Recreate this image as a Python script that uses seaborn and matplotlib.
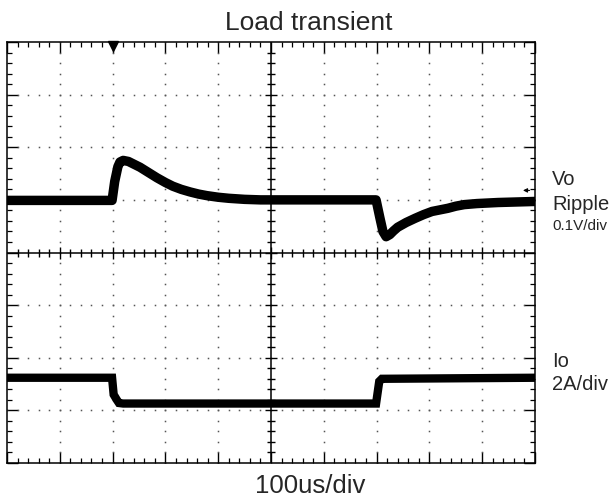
import numpy as np
import pandas as pd
import matplotlib
matplotlib.use("Agg")
import matplotlib.pyplot as plt
import seaborn as sns

# ---- data (in scope divisions) ----
t_vo = [0.0, 1.99, 2.04, 2.10, 2.14, 2.20, 2.30, 2.40, 2.52, 2.68, 2.84, 3.00, 3.14,
        3.30, 3.47, 3.63, 3.79, 4.00, 4.20, 4.50, 4.80,
        6.99, 7.06, 7.12, 7.18, 7.25, 7.32, 7.40, 7.56, 7.73, 7.89, 8.05, 8.20,
        8.35, 8.50, 8.66, 8.90, 9.30, 10.0]
vo = [0.99, 0.99, 1.35, 1.63, 1.72, 1.75, 1.73, 1.68, 1.62, 1.52, 1.42, 1.33, 1.26,
      1.20, 1.15, 1.11, 1.08, 1.05, 1.03, 1.01, 1.00,
      1.00, 0.67, 0.40, 0.30, 0.34, 0.41, 0.48, 0.57, 0.65, 0.72, 0.78, 0.81,
      0.84, 0.88, 0.91, 0.93, 0.95, 0.97]

t_io = [0.0, 1.99, 2.02, 2.08, 2.12, 2.20, 6.99, 7.05, 7.10, 10.0]
io = [-2.38, -2.38, -2.70, -2.80, -2.86, -2.87, -2.87, -2.45, -2.40, -2.38]

title = "Load transient"
xlabel = "100us/div"
vo_label = ["Vo", "Ripple", "0.1V/div"]
io_label = ["Io", "2A/div"]

sns.set_style("white")
plt.rcParams['font.family'] = ['Liberation Sans', 'DejaVu Sans']

fig = plt.figure(figsize=(6.16, 4.99), dpi=100)
ax = fig.add_axes([7/616, 36/499, 528/616, 421/499])
ax.set_xlim(0, 10)
ax.set_ylim(-4, 4)

# dotted graticule
dot_x = np.arange(0, 10.001, 0.2)
dot_y = np.arange(-4, 4.001, 0.2)
for gx in range(1, 10):
    if gx == 5:
        continue
    ax.plot(np.full_like(dot_y, gx), dot_y, ls='none', marker='s', ms=1.1,
            color='#555555', mew=0)
for gy in range(-3, 4):
    if gy == 0:
        continue
    ax.plot(dot_x, np.full_like(dot_x, gy), ls='none', marker='s', ms=1.1,
            color='#555555', mew=0)

# centre cross with ticks
ax.axhline(0, color='black', lw=1.1)
ax.axvline(5, color='black', lw=1.1)
minor_x = [v for v in dot_x if abs(v - round(v)) > 1e-6]
minor_y = [v for v in dot_y if abs(v - round(v)) > 1e-6]
ax.plot(minor_x, np.zeros(len(minor_x)), ls='none', marker='|', ms=6, mew=1.0, color='black')
ax.plot(np.full(len(minor_y), 5.0), minor_y, ls='none', marker='_', ms=6, mew=1.0, color='black')
ax.plot(range(1, 10), np.zeros(9), ls='none', marker='|', ms=9, mew=1.0, color='black')
ax.plot(np.full(7, 5.0), range(-3, 4), ls='none', marker='_', ms=9, mew=1.0, color='black')

# traces
df_vo = pd.DataFrame({"t": t_vo, "v": vo})
df_io = pd.DataFrame({"t": t_io, "v": io})
sns.lineplot(data=df_vo, x="t", y="v", ax=ax, color='black', lw=6.8,
             estimator=None, sort=False, solid_joinstyle='round')
sns.lineplot(data=df_io, x="t", y="v", ax=ax, color='black', lw=6.0,
             estimator=None, sort=False, solid_joinstyle='miter')

# trigger marker and reference arrow
ax.plot([2.0], [3.93], marker='v', ms=7, color='black', clip_on=False, ls='none')
ax.annotate("", xy=(9.72, 1.18), xytext=(9.95, 1.18),
            arrowprops=dict(arrowstyle='-|>', color='black', lw=0.8, mutation_scale=6))

# frame and edge ticks
for s in ax.spines.values():
    s.set_color('black')
    s.set_linewidth(1.1)
ax.set_xticks(range(0, 11))
ax.set_yticks(range(-4, 5))
ax.set_xticks(dot_x, minor=True)
ax.set_yticks(dot_y, minor=True)
ax.tick_params(which='both', direction='in', top=True, right=True, bottom=True, left=True,
               labelbottom=False, labelleft=False, color='black')
ax.tick_params(which='major', length=8, width=1.0)
ax.tick_params(which='minor', length=3.6, width=0.9)
ax.set_xlabel("")
ax.set_ylabel("")

# texts
fig.text(309/616, 1 - 30/499, title, ha='center', va='baseline', fontsize=19)
fig.text(310/616, 1 - 493/499, xlabel, ha='center', va='baseline', fontsize=18.5)
fig.text(552/616, 1 - 185/499, vo_label[0], ha='left', va='baseline', fontsize=14.5)
fig.text(552/616, 1 - 210/499, vo_label[1], ha='left', va='baseline', fontsize=14.5)
fig.text(552/616, 1 - 230/499, vo_label[2], ha='left', va='baseline', fontsize=11)
fig.text(552/616, 1 - 367/499, io_label[0], ha='left', va='baseline', fontsize=14.5)
fig.text(552/616, 1 - 390/499, io_label[1], ha='left', va='baseline', fontsize=14.5)

fig.savefig("out.png", dpi=100)
